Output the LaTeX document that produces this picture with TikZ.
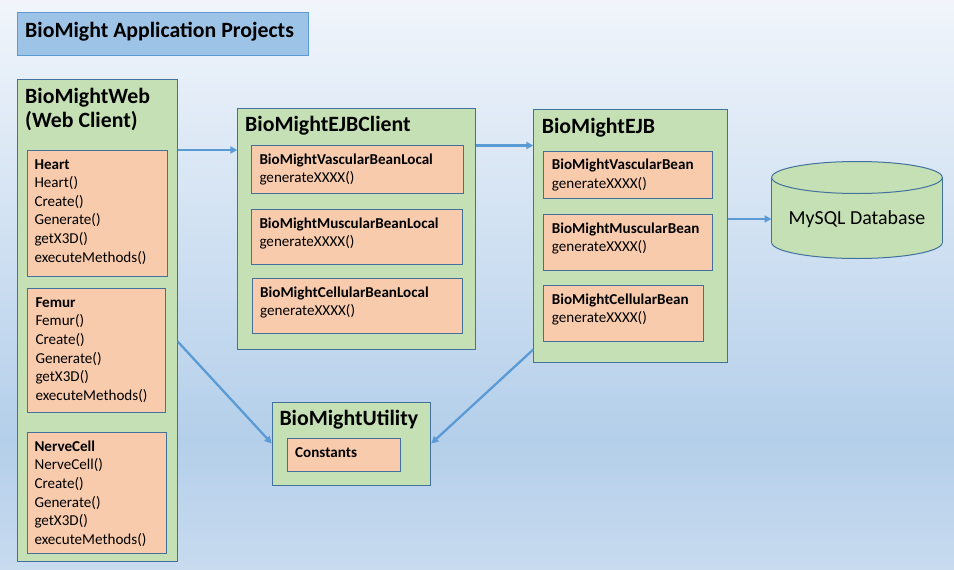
\documentclass[tikz,border=0pt]{standalone}
\usepackage{fontspec}
\setmainfont{Carlito}
\usetikzlibrary{arrows.meta}
\definecolor{bgtop}{HTML}{F1F5FB}
\definecolor{bgmid}{HTML}{B4CFEA}
\definecolor{bgbot}{HTML}{C8DBEF}
\definecolor{pgreen}{HTML}{C5E0B4}
\definecolor{ppeach}{HTML}{F8CBAD}
\definecolor{pline}{HTML}{41719C}
\definecolor{ptitle}{HTML}{9DC3E6}
\definecolor{parrow}{HTML}{5B9BD5}
\begin{document}
\begin{tikzpicture}[x=1pt,y=-1pt,
  gbox/.style={draw=pline, fill=pgreen, line width=1pt, anchor=north west, inner sep=0pt},
  pbox/.style={draw=pline, fill=ppeach, line width=1pt, anchor=north west, inner sep=0pt},
  big/.style={font=\fontsize{21.8}{26}\selectfont\bfseries, anchor=base west, inner sep=0pt, yshift=-1.5pt},
  hd/.style={font=\fontsize{15.1}{18}\selectfont\bfseries, anchor=base west, inner sep=0pt, yshift=-1.5pt},
  tx/.style={font=\fontsize{15.1}{18}\selectfont, anchor=base west, inner sep=0pt, yshift=-1.5pt},
  arr/.style={draw=parrow, line width=2.3pt, -{Triangle[length=7pt,width=7pt]}}]
\useasboundingbox (0,0) rectangle (954,570);
\shade[top color=bgtop, bottom color=bgmid] (0,0) rectangle (954,440);
\shade[top color=bgmid, bottom color=bgbot] (0,440) rectangle (954,570);

% title
\node[draw=parrow, fill=ptitle, line width=1pt, anchor=north west, inner sep=0pt,
      minimum width=291.6, minimum height=43.3] (title) at (16.7,11.7) {};
\node[big] (titletext) at (25,35.5) {BioMight Application Projects};

% BioMightWeb
\node[gbox, minimum width=160, minimum height=481.7] (web) at (16.7,79) {};
\node[big] (webt1) at (25,102) {BioMightWeb};
\node[big] (webt2) at (25,125.5) {(Web Client)};

\node[pbox, minimum width=140, minimum height=125.7] (heart) at (26.7,150) {};
\node[hd] (heart0) at (34.3,167.5) {Heart};
\foreach \t [count=\i] in {Heart(),Create(),Generate(),getX3D(),executeMethods()}
  \node[tx] (heart\i) at (34.3,{167.5+18.6*\i}) {\t};

\node[pbox, minimum width=137.7, minimum height=123.4] (femur) at (27.3,288.3) {};
\node[hd] (femur0) at (35.3,305.8) {Femur};
\foreach \t [count=\i] in {Femur(),Create(),Generate(),getX3D(),executeMethods()}
  \node[tx] (femur\i) at (35.3,{305.8+18.6*\i}) {\t};

\node[pbox, minimum width=139, minimum height=120.4] (nerve) at (26.7,432.3) {};
\node[hd] (nerve0) at (34.3,449.8) {NerveCell};
\foreach \t [count=\i] in {NerveCell(),Create(),Generate(),getX3D(),executeMethods()}
  \node[tx] (nerve\i) at (34.3,{449.8+18.6*\i}) {\t};

% BioMightEJBClient
\node[gbox, minimum width=237.7, minimum height=241] (ejbc) at (237.3,108.3) {};
\node[big] (ejbct) at (245,130) {BioMightEJBClient};
\node[pbox, minimum width=212, minimum height=48] (vl) at (251,145.3) {};
\node[hd] (vl0) at (259.3,162.5) {BioMightVascularBeanLocal};
\node[tx] (vl1) at (259.3,181) {generateXXXX()};
\node[pbox, minimum width=210.7, minimum height=55] (ml) at (251,209.3) {};
\node[hd] (ml0) at (259.3,226.5) {BioMightMuscularBeanLocal};
\node[tx] (ml1) at (259.3,245) {generateXXXX()};
\node[pbox, minimum width=210, minimum height=55] (cl) at (252.3,278.3) {};
\node[hd] (cl0) at (260,295.8) {BioMightCellularBeanLocal};
\node[tx] (cl1) at (260,314.3) {generateXXXX()};

% BioMightEJB
\node[gbox, minimum width=194, minimum height=253] (ejb) at (533.3,109.3) {};
\node[big] (ejbt) at (541.7,131.5) {BioMightEJB};
\node[pbox, minimum width=168.4, minimum height=47.6] (vb) at (543.3,150.7) {};
\node[hd] (vb0) at (551.7,168) {BioMightVascularBean};
\node[tx] (vb1) at (551.7,186.5) {generateXXXX()};
\node[pbox, minimum width=168.4, minimum height=56] (mb) at (543.3,214.3) {};
\node[hd] (mb0) at (551.7,231.8) {BioMightMuscularBean};
\node[tx] (mb1) at (551.7,250.3) {generateXXXX()};
\node[pbox, minimum width=160, minimum height=55.7] (cb) at (543.3,285.3) {};
\node[hd] (cb0) at (551.7,302.5) {BioMightCellularBean};
\node[tx] (cb1) at (551.7,321) {generateXXXX()};

% BioMightUtility
\node[gbox, minimum width=158.6, minimum height=83.6] (util) at (271.7,401.7) {};
\node[big] (utilt) at (279.3,423.8) {BioMightUtility};
\node[pbox, minimum width=112.4, minimum height=33] (const) at (287.3,438.3) {};
\node[hd] (const0) at (295,455.8) {Constants};

% database cylinder
\fill[pgreen, draw=pline, line width=1pt] (857,242.5) ellipse [x radius=85.3, y radius=16];
\fill[pgreen] (771.7,177.5) rectangle (942.3,242.5);
\draw[pline, line width=1pt] (771.7,177.5) -- (771.7,242.5) (942.3,177.5) -- (942.3,242.5);
\fill[pgreen, draw=pline, line width=1pt] (857,177.5) ellipse [x radius=85.3, y radius=16];
\node[inner sep=0pt, minimum width=170.6, minimum height=97] (db) at (857,210) {};
\node[font=\fontsize{19.9}{24}\selectfont, anchor=base, inner sep=0pt] (dbt) at (857,224.3) {MySQL Database};

% connectors
\draw[arr] (web.east |- 0,150) -- (ejbc.west |- 0,150);
\draw[arr] (ejbc.east |- 0,145.5) -- (ejb.west |- 0,145.5);
\draw[arr] (ejb.east |- 0,219) -- (db.west |- 0,219);
\draw[arr] (web.east |- 0,341.5) -- (util.west |- 0,443.5);
\draw[arr] (ejb.west |- 0,349.5) -- (util.east |- 0,443.5);
\end{tikzpicture}
\end{document}
